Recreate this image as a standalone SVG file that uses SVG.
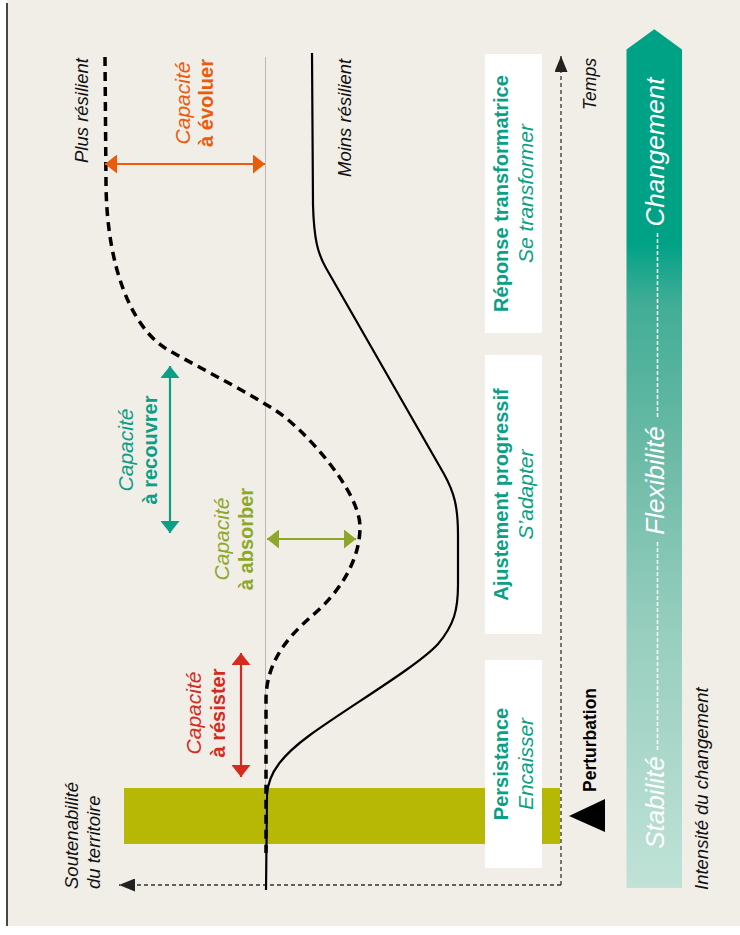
<svg xmlns="http://www.w3.org/2000/svg" width="740" height="935" viewBox="0 0 740 935">
<style>
.lbl{font-family:"Liberation Sans",Arial,sans-serif;font-style:italic;font-size:18.5px;fill:#111}
.capi{font-family:"Liberation Sans",Arial,sans-serif;font-style:italic;font-size:21px}
.capb{font-family:"Liberation Sans",Arial,sans-serif;font-weight:bold;font-size:20px}
.boxb{font-family:"Liberation Sans",Arial,sans-serif;font-weight:bold;font-size:20px;fill:#0a9f86}
.boxi{font-family:"Liberation Sans",Arial,sans-serif;font-style:italic;font-size:21px;fill:#0a9f86}
.big{font-family:"Liberation Sans",Arial,sans-serif;font-style:italic;font-size:26px;fill:#fff}
.box{fill:#fff}
.axis{fill:none;stroke:#333;stroke-width:1.3;stroke-dasharray:4 3}
.wdash{fill:none;stroke:#fff;stroke-width:1.5;stroke-dasharray:4 2}
</style>
<defs>
<linearGradient id="grad" gradientUnits="userSpaceOnUse" x1="0" y1="29" x2="0" y2="888">
<stop offset="0" stop-color="#00a286"/>
<stop offset="0.25" stop-color="#00a286"/>
<stop offset="0.32" stop-color="#42ad96"/>
<stop offset="0.5" stop-color="#6dbba7"/>
<stop offset="0.7" stop-color="#97cebe"/>
<stop offset="1" stop-color="#c0e2d7"/>
</linearGradient>
<marker id="mo" viewBox="0 0 12 19" refX="12" refY="9.5" markerWidth="12" markerHeight="19" markerUnits="userSpaceOnUse" orient="auto-start-reverse"><path d="M0,0 L12,9.5 L0,19 Z" fill="#ea5b0c"/></marker>
<marker id="mt" viewBox="0 0 12 19" refX="12" refY="9.5" markerWidth="12" markerHeight="19" markerUnits="userSpaceOnUse" orient="auto-start-reverse"><path d="M0,0 L12,9.5 L0,19 Z" fill="#0a9f86"/></marker>
<marker id="mg" viewBox="0 0 12 19" refX="12" refY="9.5" markerWidth="12" markerHeight="19" markerUnits="userSpaceOnUse" orient="auto-start-reverse"><path d="M0,0 L12,9.5 L0,19 Z" fill="#8da829"/></marker>
<marker id="mr" viewBox="0 0 12 19" refX="12" refY="9.5" markerWidth="12" markerHeight="19" markerUnits="userSpaceOnUse" orient="auto-start-reverse"><path d="M0,0 L12,9.5 L0,19 Z" fill="#d52b1e"/></marker>
<marker id="ma" viewBox="0 0 16 13" refX="16" refY="6.5" markerWidth="16" markerHeight="13" markerUnits="userSpaceOnUse" orient="auto"><path d="M0,0 L16,6.5 L0,13 Z" fill="#222"/></marker>
</defs>

<rect x="0" y="0" width="740" height="935" fill="#fff"/>
<rect x="7" y="0" width="733" height="926" fill="#f1ede7"/>
<line x1="7" y1="3" x2="7" y2="926" stroke="#4a4543" stroke-width="2"/>

<g id="perturbation-band">
<rect x="124" y="788" width="436" height="56" fill="#b7b705"/>
</g>
<line x1="265.5" y1="57" x2="265.5" y2="855" stroke="#bdb8b2" stroke-width="1"/>

<g id="box-persistance">
<rect class="box" x="485" y="660" width="57" height="208"/>
<text class="boxb" text-anchor="middle" transform="translate(508,764) rotate(-90)">Persistance</text>
<text class="boxi" text-anchor="middle" transform="translate(533,764) rotate(-90)">Encaisser</text>
</g>
<g id="box-ajustement">
<rect class="box" x="485" y="355" width="57" height="279"/>
<text class="boxb" text-anchor="middle" transform="translate(508,494.5) rotate(-90)">Ajustement progressif</text>
<text class="boxi" text-anchor="middle" transform="translate(533,494.5) rotate(-90)">S’adapter</text>
</g>
<g id="box-reponse">
<rect class="box" x="485" y="54" width="57" height="279"/>
<text class="boxb" text-anchor="middle" transform="translate(508,193.5) rotate(-90)">Réponse transformatrice</text>
<text class="boxi" text-anchor="middle" transform="translate(533,193.5) rotate(-90)">Se transformer</text>
</g>

<g id="connectors">
<path class="axis" d="M561,885 L561,56" marker-end="url(#ma)"/>
<path class="axis" d="M561,885 L119,885" marker-end="url(#ma)"/>
<path id="curve-plus" d="M105,57 L106,185 C107,265 130,325 165,348 C190,363 235,385 275,410 C302,427 360,490 360,527 C360,560 340,592 313,615 C290,635 266,660 266,700 L266,853" fill="none" stroke="#000" stroke-width="3.5" stroke-dasharray="9 6"/>
<path id="curve-moins" d="M312,53 L313,205 C314,240 318,254 326,268 L444,474 C454,492 458,506 458,535 L458,585 C458,610 454,625 438,644 C418,666 350,706 310,735 C284,754 268,772 267,795 L266,890" fill="none" stroke="#000" stroke-width="2.2"/>
<line x1="105" y1="164" x2="265" y2="164" stroke="#ea5b0c" stroke-width="2.2" marker-start="url(#mo)" marker-end="url(#mo)"/>
<line x1="170" y1="366" x2="170" y2="533" stroke="#0a9f86" stroke-width="2.2" marker-start="url(#mt)" marker-end="url(#mt)"/>
<line x1="267" y1="539" x2="356" y2="539" stroke="#8da829" stroke-width="2.2" marker-start="url(#mg)" marker-end="url(#mg)"/>
<line x1="241" y1="653" x2="241" y2="777" stroke="#d52b1e" stroke-width="2.2" marker-start="url(#mr)" marker-end="url(#mr)"/>
</g>

<g id="label-plus">
<text class="lbl" transform="translate(88,163) rotate(-90)">Plus résilient</text>
</g>
<g id="label-moins">
<text class="lbl" transform="translate(351,177) rotate(-90)">Moins résilient</text>
</g>
<g id="label-temps">
<text class="lbl" style="font-size:17.5px" transform="translate(596,110) rotate(-90)">Temps</text>
</g>
<g id="label-soutenabilite">
<text class="lbl" transform="translate(78,889) rotate(-90)">Soutenabilité</text>
<text class="lbl" transform="translate(100,889) rotate(-90)">du territoire</text>
</g>
<g id="label-intensite">
<text class="lbl" transform="translate(708,890) rotate(-90)">Intensité du changement</text>
</g>
<g id="perturbation">
<polygon points="569,816 605,799 605,832" fill="#000"/>
<text font-family="Liberation Sans, Arial, sans-serif" font-weight="bold" font-size="17.5" fill="#000" transform="translate(596,792) rotate(-90)">Perturbation</text>
</g>

<g id="cap-evoluer" fill="#ea5b0c">
<text class="capi" text-anchor="middle" transform="translate(190,103) rotate(-90)">Capacité</text>
<text class="capb" text-anchor="middle" transform="translate(213,103) rotate(-90)">à évoluer</text>
</g>
<g id="cap-recouvrer" fill="#0a9f86">
<text class="capi" text-anchor="middle" transform="translate(133,450) rotate(-90)">Capacité</text>
<text class="capb" text-anchor="middle" transform="translate(156.5,450) rotate(-90)">à recouvrer</text>
</g>
<g id="cap-absorber" fill="#8da829">
<text class="capi" text-anchor="middle" transform="translate(229,539) rotate(-90)">Capacité</text>
<text class="capb" text-anchor="middle" transform="translate(252.5,539) rotate(-90)">à absorber</text>
</g>
<g id="cap-resister" fill="#d52b1e">
<text class="capi" text-anchor="middle" transform="translate(200.5,713) rotate(-90)">Capacité</text>
<text class="capb" text-anchor="middle" transform="translate(224.5,713) rotate(-90)">à résister</text>
</g>

<g id="intensity-arrow">
<path d="M626.5,49.5 L654.3,29.3 L682,49.5 L682,888 L626.5,888 Z" fill="url(#grad)"/>
<line class="wdash" x1="657.5" y1="233" x2="657.5" y2="418"/>
<line class="wdash" x1="657.5" y1="542" x2="657.5" y2="750"/>
<text class="big" text-anchor="middle" transform="translate(664,152) rotate(-90)">Changement</text>
<text class="big" text-anchor="middle" transform="translate(664,480.5) rotate(-90)">Flexibilité</text>
<text class="big" text-anchor="middle" transform="translate(664,802.5) rotate(-90)">Stabilité</text>
</g>
</svg>
